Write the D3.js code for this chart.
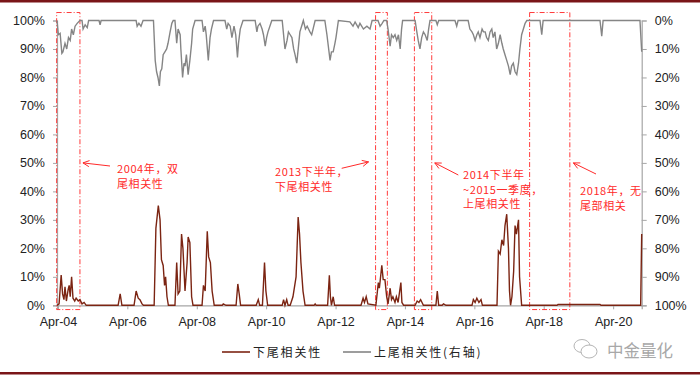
<!DOCTYPE html>
<html>
<head>
<meta charset="utf-8">
<script src="https://cdn.jsdelivr.net/npm/d3@7"></script>
<style>
  body { margin: 0; background: #fff; }
  svg { font-family: "Liberation Sans", Arial, sans-serif; }
  .cn { font-family: "Noto Sans CJK SC", sans-serif; }
</style>
</head>
<body>
<svg id="chart" width="700" height="380"></svg>
<script>
// dates are decimal years
var lowerDates = [2004.22,2004.28,2004.34,2004.38,2004.42,2004.45,2004.49,2004.54,2004.57,2004.60,2004.64,2004.68,2004.73,2004.77,2004.83,2004.88,2004.94,2005.00,2005.06,
  2005.98,2006.04,2006.09,2006.44,2006.50,2006.56,2006.61,2006.67,2006.71,
  2007.02,2007.07,2007.14,2007.19,2007.23,2007.28,2007.32,2007.35,2007.39,2007.43,
  2007.62,2007.67,2007.71,2007.76,2007.81,2007.85,2007.91,2007.97,2008.00,2008.05,2008.10,2008.14,
  2008.40,2008.44,2008.49,2008.55,2008.59,2008.64,2008.69,2008.75,2008.98,2009.01,2009.09,
  2009.38,2009.43,2009.47,2009.51,2009.96,2010.02,2010.06,2010.14,2010.20,2010.24,2010.29,
  2010.71,2010.75,2010.79,2010.84,2010.88,2010.94,2011.02,2011.11,2011.17,2011.21,2011.25,2011.31,2011.37,
  2011.63,2011.66,2011.69,2012.02,2012.07,2012.10,2012.13,2012.18,2012.22,
  2012.98,2013.04,2013.08,2013.13,2013.18,2013.41,2013.48,2013.51,2013.58,2013.62,2013.67,2013.72,2013.76,
  2013.82,2013.86,2013.90,2013.96,2014.00,2014.05,2014.13,2014.16,2014.21,
  2014.54,2014.60,2014.65,2014.70,2014.74,2014.78,2015.14,2015.18,2015.22,2015.32,2015.36,2015.43,
  2016.18,2016.22,2016.27,2016.32,2016.38,2016.44,2016.48,
  2016.90,2016.94,2016.99,2017.04,2017.09,2017.13,2017.18,2017.23,2017.26,2017.29,2017.33,2017.38,2017.42,2017.46,2017.52,2017.55,2017.61,
  2018.63,2018.66,2019.87,2019.90,2021.04,2021.07];
var lowerVals = [0,0.5,10.6,4,2,6.5,1.5,5.5,7,3,10,2.5,1.5,2.5,1.5,2,0.5,1,0,
  0,4,0,0,5,2.5,2,0.5,0,
  0,27,35,30,16,14,7,10,3,0,
  0,15,4,5,25,20,5,15,24,22,3,0,
  0,7,5,26,17,15,5,0,0,0.5,0,
  0,7.5,4,0,0,2,0,0,15,5,0,
  0,2,0,2,0,0,3,10,31,25,15,5,0,
  0,0.5,0,0,10.5,3,0,3,0,
  0,2.5,1,3,0.5,0,8,6,14,9,9,3,0.5,
  6,2,3,1,3,1,8,1,0,
  0,1.5,1,2,1,0,0,5,0,0,0.5,0,
  0,2,1,2.5,1,2,0,
  0,19,18,23,21,28,32,20,5,0,3,12,28,25,30,10,0,
  0,0.3,0.3,0,0,25];

var upperDates = [2004.22,2004.26,2004.31,2004.36,2004.39,2004.45,2004.50,2004.55,2004.60,2004.64,2004.69,2004.74,2004.80,2004.88,
  2004.94,2004.97,2005.03,2005.09,2005.13,2005.43,2005.46,2005.49,2006.50,2006.53,2006.58,2006.64,2006.70,
  2007.00,2007.05,2007.09,2007.13,2007.17,2007.20,2007.24,2007.28,2007.33,2007.38,2007.42,2007.48,2007.53,2007.57,
  2007.62,2007.67,2007.71,2007.77,2007.79,2007.84,2007.88,2007.91,2007.95,2008.00,2008.05,2008.10,2008.13,2008.20,
  2008.40,2008.44,2008.49,2008.52,2008.58,2008.63,2008.67,2008.73,
  2009.06,2009.11,2009.15,2009.21,2009.26,2009.32,2009.37,2009.42,2009.45,2009.50,2009.58,
  2009.93,2009.98,2010.01,2010.07,2010.13,2010.17,2010.22,2010.26,2010.30,2010.41,
  2010.71,2010.79,2010.85,2010.89,2010.94,2010.99,2011.04,2011.08,2011.13,2011.18,2011.22,2011.27,2011.32,
  2011.38,2011.43,2011.47,2011.51,2011.56,2011.60,2011.66,
  2011.94,2012.00,2012.05,2012.09,2012.13,2012.18,2012.23,2012.26,2012.33,
  2012.66,2012.75,2012.81,2012.90,2012.95,2013.05,2013.15,2013.24,2013.30,
  2013.47,2013.53,2013.59,2013.64,2013.72,2013.76,2013.82,2013.86,2013.91,2013.96,2014.01,2014.06,2014.11,2014.15,2014.18,
  2014.54,2014.59,2014.63,2014.68,2014.73,2014.78,2014.83,2014.89,2014.93,2014.97,
  2015.14,2015.18,2015.22,2015.69,2015.74,2015.78,
  2016.07,2016.12,2016.18,2016.22,2016.27,2016.32,2016.36,2016.41,2016.47,2016.51,2016.56,2016.60,2016.65,2016.70,2016.75,2016.79,2016.84,2016.89,2016.94,
  2016.99,2017.04,2017.08,2017.13,2017.18,2017.23,2017.28,2017.32,2017.37,2017.42,2017.47,2017.52,2017.56,2017.61,2017.66,2017.71,2017.76,
  2018.14,2018.19,2018.23,2019.87,2019.92,2019.96,2020.99,2021.02,2021.07];
var upperVals = [0,5,4.5,11.5,11,8,10,6,7,3,5,2,1,0,
  0,3,1.5,2.5,0,0,1.5,0,0,2,1,2,0,
  0,14,18,20,23,18,17,12,11,10,8,4,1,0,
  0,8,3,5,10,20,15,16,12,19,14,8,3,0,
  0,4,2,5,14,6,3,0,
  0,3,1,2,6,2,5,13,8,3,0,
  0,4,2,1,3,5,9,6,4,0,
  0,10,7,4,5,6,10,12,15,9,4,2,0,
  3,2,3,4,5,3,0,
  0,5,10,14,11,11,8,6,0,
  0.5,2,0.5,2.5,1,3,2,3,0,
  0,2,1,0,0,3,9,5,6,5,7,5,10,3,0,
  0,4,7,10,6,4,5,7,3,0,
  0,1.5,0,0,2,0,
  0,3,4,5,7,5,4,6,3,4,4,6,7,4,3,6,4,10,8,
  5,8,10,12,14,16,19,16,15,18,19,15,10,5,3,1,0,
  0,5,0,0,5.5,0,0,0,11];

var pctTicks = [0,10,20,30,40,50,60,70,80,90,100];
var xTickYears = [2004,2006,2008,2010,2012,2014,2016,2018,2020];

// highlighted periods and their notes
var periods = [[2004.21,2004.88],[2013.40,2013.74],[2014.52,2015.02],[2017.84,2019.00]];
var noteLines = [
  ["2004年，双","尾相关性"],
  ["2013下半年，","下尾相关性"],
  ["2014下半年","~2015一季度，","上尾相关性"],
  ["2018年，无","尾部相关"]
];
var seriesNames = ["下尾相关性","上尾相关性(右轴)"];

function toDate(y) {
  var yr = Math.floor(y), a = Date.UTC(yr,0,1), b = Date.UTC(yr+1,0,1);
  return new Date(a + (y - yr) * (b - a));
}

var svg = d3.select("#chart");
var plotL = 57, plotR = 641.7, plotT = 20.5, plotB = 305.3;

var x = d3.scaleUtc().domain([toDate(lowerDates[0]), toDate(lowerDates[lowerDates.length-1])]).range([plotL, plotR]);
var yL = d3.scaleLinear().domain([0,100]).range([plotB, plotT]);
var yR = d3.scaleLinear().domain([0,100]).range([plotT, plotB]);

// frame lines (top and bottom)
svg.append("rect").attr("x",0).attr("y",0).attr("width",700).attr("height",2.5).attr("fill","#7a1518");
svg.append("rect").attr("x",0).attr("y",372).attr("width",700).attr("height",2.5).attr("fill","#7a1518");

var fmt = function(d){ return d + "%"; };

var axL = svg.append("g").attr("transform","translate("+plotL+",0)")
  .call(d3.axisLeft(yL).tickValues(pctTicks).tickFormat(fmt).tickSize(4).tickPadding(8));
var axR = svg.append("g").attr("transform","translate("+plotR+",0)")
  .call(d3.axisRight(yR).tickValues(pctTicks).tickFormat(fmt).tickSize(5).tickPadding(8));
var axB = svg.append("g").attr("transform","translate(0,"+plotB+")")
  .call(d3.axisBottom(x).tickValues(xTickYears.map(function(y){ return new Date(Date.UTC(y,3,1)); }))
    .tickFormat(d3.utcFormat("%b-%y")).tickSize(4).tickPadding(8));

[axL, axR, axB].forEach(function(g){
  g.select(".domain").attr("stroke","#a6a6a6").attr("stroke-width",1.2);
  g.selectAll(".tick line").attr("stroke","#a6a6a6");
  g.selectAll("text").attr("font-size",12.5).attr("fill","#222");
});

// highlight boxes
var boxTop = yL(102.8), boxBot = yL(-1.5);
svg.append("g").selectAll("rect").data(periods).enter().append("rect")
  .attr("x", function(d){ return x(toDate(d[0])); })
  .attr("y", boxTop)
  .attr("width", function(d){ return x(toDate(d[1])) - x(toDate(d[0])); })
  .attr("height", boxBot - boxTop)
  .attr("fill","none").attr("stroke","#ff3b3b").attr("stroke-width",1)
  .attr("stroke-dasharray","5,2,1,2");

// lines
var lowerData = lowerDates.map(function(d,i){ return {date: toDate(d), v: lowerVals[i]}; });
var upperData = upperDates.map(function(d,i){ return {date: toDate(d), v: upperVals[i]}; });

svg.append("path").datum(upperData)
  .attr("fill","none").attr("stroke","#858585").attr("stroke-width",1.4)
  .attr("d", d3.line().x(function(d){ return x(d.date); }).y(function(d){ return yR(d.v); }));
svg.append("path").datum(lowerData)
  .attr("fill","none").attr("stroke","#7b2412").attr("stroke-width",1.4)
  .attr("d", d3.line().x(function(d){ return x(d.date); }).y(function(d){ return yL(d.v); }));

// notes: arrow from tail to tip, tip sits at 50% next to a box edge
var noteRed = "#ff2a2a";
var notes = [
  {tip: [x(toDate(periods[0][1])) + 3, yL(50)], tail: [110, 166], tx: 117, ty: 173},
  {tip: [x(toDate(periods[1][0])) - 7, yL(50) - 1], tail: [341.7, 168.3], tx: 275, ty: 176},
  {tip: [x(toDate(periods[2][1])) + 3, yL(50)], tail: [458.3, 175], tx: 463, ty: 179},
  {tip: [x(toDate(periods[3][1])) + 3.5, yL(50)], tail: [596, 174], tx: 580, ty: 195}
];
var ng = svg.append("g");
notes.forEach(function(n, i){
  var dx = n.tip[0] - n.tail[0], dy = n.tip[1] - n.tail[1];
  var a = Math.atan2(dy, dx), L = 7, s = 0.45;
  var p1 = [n.tip[0] - L*Math.cos(a - s), n.tip[1] - L*Math.sin(a - s)];
  var p2 = [n.tip[0] - L*Math.cos(a + s), n.tip[1] - L*Math.sin(a + s)];
  ng.append("path")
    .attr("d", "M"+n.tail+"L"+n.tip+"M"+p1+"L"+n.tip+"L"+p2)
    .attr("fill","none").attr("stroke",noteRed).attr("stroke-width",1);
  var t = ng.append("text").attr("class","cn").attr("font-size",11).attr("fill",noteRed)
    .attr("letter-spacing",0.6);
  noteLines[i].forEach(function(line, j){
    t.append("tspan").attr("x", n.tx).attr("y", n.ty + j*14.5).text(line);
  });
});

// legend
var lg = svg.append("g");
var legendItems = [{name: seriesNames[0], color: "#7b2412", x: 222}, {name: seriesNames[1], color: "#858585", x: 343}];
legendItems.forEach(function(d){
  lg.append("line").attr("x1", d.x).attr("x2", d.x + 28).attr("y1", 352).attr("y2", 352)
    .attr("stroke", d.color).attr("stroke-width", 1.6);
  lg.append("text").attr("class","cn").attr("x", d.x + 31).attr("y", 356.5)
    .attr("font-size", 12).attr("letter-spacing", 1.8).attr("fill","#222").text(d.name);
});

// watermark
var wm = svg.append("g").attr("stroke","#b5b5b5").attr("fill","#fff").attr("stroke-width",1);
wm.append("ellipse").attr("cx",582).attr("cy",346).attr("rx",8).attr("ry",6.5);
wm.append("ellipse").attr("cx",589).attr("cy",351.5).attr("rx",8).attr("ry",6.5);
svg.append("text").attr("class","cn").attr("x",607).attr("y",357).attr("font-size",16.5)
  .attr("fill","#a8a8a8").text("中金量化");
</script>
</body>
</html>
